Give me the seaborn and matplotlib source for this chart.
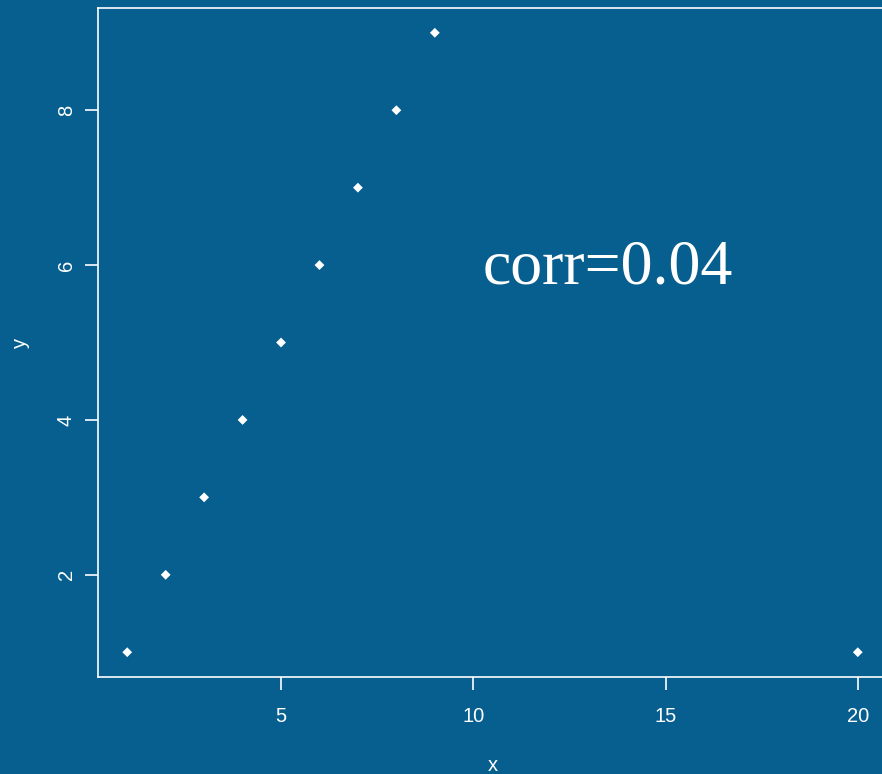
import pandas as pd
import matplotlib
matplotlib.use("Agg")
import matplotlib.pyplot as plt
import seaborn as sns

# points
x_vals = [1, 2, 3, 4, 5, 6, 7, 8, 9, 20]
y_vals = [1, 2, 3, 4, 5, 6, 7, 8, 9, 1]
x_ticks = [5, 10, 15, 20]
y_ticks = [2, 4, 6, 8]
corr_text = "corr=0.04"

bg = "#075f8f"
fg = "white"

sns.set_style("ticks")
plt.rcParams['font.family'] = ['Liberation Sans', 'DejaVu Sans']

df = pd.DataFrame({'x': x_vals, 'y': y_vals})

fig = plt.figure(figsize=(8.82, 7.74), dpi=100, facecolor=bg)
ax = fig.add_axes([98/882, 1 - 677/774, 789/882, 669/774])
ax.set_facecolor(bg)

sns.scatterplot(data=df, x='x', y='y', ax=ax, marker='D', s=25,
                color=fg, edgecolor='none', linewidth=0)

# R-style 4% padding
xr = max(x_vals) - min(x_vals)
yr = max(y_vals) - min(y_vals)
ax.set_xlim(min(x_vals) - 0.04 * xr, max(x_vals) + 0.04 * xr)
ax.set_ylim(min(y_vals) - 0.04 * yr, max(y_vals) + 0.04 * yr)

ax.set_xticks(x_ticks)
ax.set_yticks(y_ticks)
ax.set_yticklabels([str(v) for v in y_ticks], rotation=90, va='center')
ax.tick_params(colors=fg, labelcolor=fg, labelsize=14.5, length=9.5, width=1.2,
               direction='out')
ax.tick_params(axis='x', pad=12)
ax.tick_params(axis='y', pad=6.5)

for side in ax.spines.values():
    side.set_color(fg)
    side.set_linewidth(1.2)

ax.set_xlabel('x', color=fg, fontsize=14.5, labelpad=21.5)
ax.set_ylabel('y', color=fg, fontsize=14.5, labelpad=19)

ax.text(13.5, 5.95, corr_text, color=fg, fontsize=46, ha='center',
        va='center', family=['Liberation Serif', 'DejaVu Serif'])

fig.savefig("out.png", dpi=100, facecolor=bg)
